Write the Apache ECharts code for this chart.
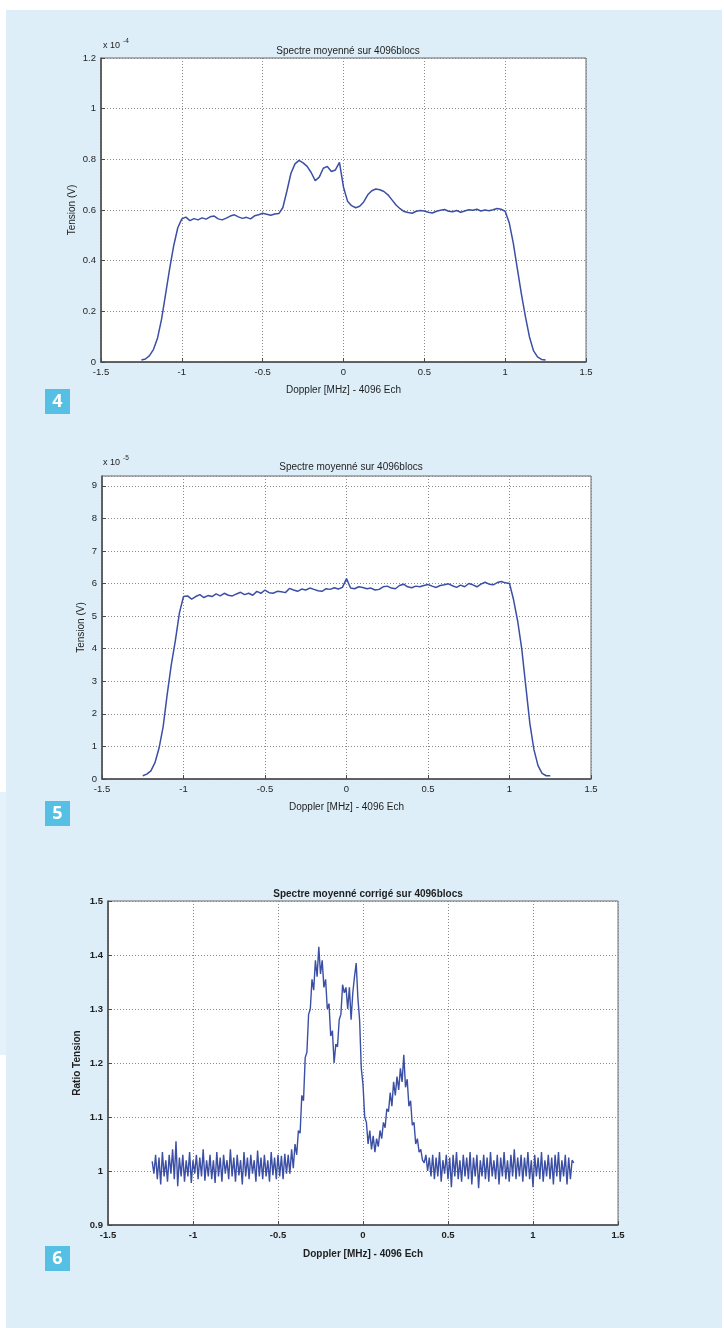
<!DOCTYPE html>
<html lang="fr" style="height: 100%">
<head>
  <meta charset="utf-8">
</head>
<body style="height: 100%; margin: 0; background: #fff">
  <div id="container" style="width: 724px; height: 1328px"></div>

  <script type="text/javascript" src="https://fastly.jsdelivr.net/npm/echarts@6/dist/echarts.min.js"></script>

  <script type="text/javascript">
    // sample grids (MHz)
    var X12_START = -1.25, X12_STEP = 0.025, X12_COUNT = 101;
    var X3_START = -1.24, X3_STEP = 0.01, X3_COUNT = 249;

    // fig 4 : tension x 1e-4 V
    var spectre4 = [
      0.008, 0.012, 0.025, 0.05, 0.095, 0.17, 0.27, 0.37, 0.46, 0.53,
      0.565, 0.572, 0.558, 0.566, 0.561, 0.569, 0.564, 0.573, 0.576, 0.565,
      0.561, 0.568, 0.576, 0.581, 0.573, 0.567, 0.571, 0.565, 0.577, 0.581,
      0.587, 0.583, 0.579, 0.584, 0.586, 0.61, 0.675, 0.745, 0.782, 0.796,
      0.786, 0.772, 0.748, 0.716, 0.73, 0.765, 0.772, 0.752, 0.758, 0.788,
      0.69, 0.635, 0.617, 0.609, 0.615, 0.632, 0.66, 0.676, 0.683, 0.68,
      0.673, 0.66, 0.64, 0.62, 0.605, 0.594, 0.59, 0.587, 0.595, 0.598,
      0.596, 0.591, 0.588, 0.595, 0.599, 0.602, 0.595, 0.593, 0.598, 0.591,
      0.596, 0.601, 0.599, 0.603, 0.596, 0.6, 0.597, 0.601, 0.606, 0.603,
      0.595, 0.55, 0.47, 0.37, 0.27, 0.18, 0.1, 0.045, 0.02, 0.01,
      0.008
    ];

    // fig 5 : tension x 1e-5 V
    var spectre5 = [
      0.1, 0.15, 0.25, 0.5, 0.95, 1.6, 2.6, 3.5, 4.25, 5.1,
      5.6, 5.62, 5.52, 5.6, 5.66, 5.57, 5.63, 5.6, 5.68, 5.62,
      5.7, 5.64, 5.62, 5.68, 5.73, 5.66, 5.7, 5.64, 5.76, 5.7,
      5.8, 5.72, 5.7, 5.76, 5.75, 5.72, 5.85, 5.8, 5.76, 5.83,
      5.8, 5.86, 5.82, 5.78, 5.76, 5.84, 5.82, 5.87, 5.83, 5.88,
      6.15, 5.86, 5.84, 5.9, 5.88, 5.84, 5.86, 5.8, 5.82, 5.9,
      5.92, 5.86, 5.84, 5.94, 5.98, 5.9, 5.87, 5.92, 5.9, 5.94,
      5.97, 5.92, 5.88, 5.94, 5.96, 5.99, 5.93, 5.88, 5.95, 5.9,
      6.0, 5.96, 5.9, 5.98, 6.04, 5.98, 5.96, 6.03, 6.06, 6.02,
      6.0, 5.5, 4.85, 4.0, 2.85, 1.7, 0.9, 0.41, 0.17, 0.1,
      0.1
    ];

    // fig 6 : ratio
    var ratio6 = [
      1.018, 0.995, 1.03, 0.985, 1.025, 0.975, 1.035, 0.99, 1.02, 0.98,
      1.03, 0.995, 1.04, 0.985, 1.055, 0.972, 1.025, 0.99, 1.03, 0.98,
      1.02, 0.99, 1.035, 0.978, 1.02, 0.995, 1.03, 0.985, 1.025, 0.99,
      1.04, 0.982, 1.02, 0.99, 1.03, 0.985, 1.02, 0.978, 1.035, 0.99,
      1.025, 0.98, 1.03, 0.995, 1.02, 0.985, 1.04, 0.99, 1.025, 0.98,
      1.03, 0.992, 1.02, 0.975, 1.035, 0.99, 1.025, 0.985, 1.03, 0.995,
      1.02, 0.98, 1.038, 0.99, 1.025, 0.985, 1.03, 0.99, 1.02, 0.98,
      1.035, 0.992, 1.025, 0.985, 1.03, 0.99, 1.028, 0.985, 1.032, 0.995,
      1.03, 0.995, 1.04, 1.005, 1.05, 1.03, 1.075, 1.07, 1.14, 1.13,
      1.21, 1.22, 1.29, 1.3, 1.355, 1.335, 1.39, 1.36, 1.415, 1.365,
      1.39, 1.34, 1.355, 1.3, 1.31, 1.25, 1.26, 1.2, 1.235, 1.23,
      1.28, 1.29, 1.345, 1.33, 1.34, 1.3, 1.34, 1.28, 1.33, 1.36,
      1.385, 1.32, 1.28, 1.19, 1.16, 1.1, 1.09, 1.05, 1.075, 1.04,
      1.065, 1.035, 1.06, 1.045, 1.075, 1.06, 1.09, 1.08, 1.115, 1.11,
      1.145, 1.12, 1.165, 1.14, 1.175, 1.15, 1.19, 1.165, 1.215, 1.155,
      1.17, 1.12, 1.13, 1.085, 1.09, 1.05, 1.06, 1.035, 1.04, 1.02,
      1.015, 1.03, 1.0, 1.025, 0.99, 1.03, 0.985, 1.025, 0.99, 1.035,
      0.98, 1.02, 0.995, 1.03, 0.985, 1.025, 0.97, 1.03, 0.99, 1.035,
      0.985, 1.02, 0.98, 1.03, 0.99, 1.025, 0.985, 1.035, 0.975, 1.025,
      0.99, 1.03, 0.968, 1.02, 0.99, 1.03, 0.985, 1.025, 0.98, 1.035,
      0.99, 1.02, 0.985, 1.03, 0.975, 1.025, 0.99, 1.035, 0.985, 1.02,
      0.98, 1.03, 0.99, 1.04, 0.985, 1.025, 0.99, 1.03, 0.98, 1.025,
      0.99, 1.035, 0.985, 1.02, 0.97, 1.03, 0.99, 1.025, 0.985, 1.035,
      0.98, 1.02, 0.99, 1.03, 0.985, 1.025, 0.975, 1.03, 0.99, 1.035,
      0.98, 1.02, 0.99, 1.03, 0.975, 1.025, 0.985, 1.02, 1.015
    ];

    function grille(start, step, n) {
      var out = [];
      for (var i = 0; i < n; i++) out.push(+(start + i * step).toFixed(4));
      return out;
    }
    function paires(xs, ys) {
      return xs.map(function (x, i) { return [x, ys[i]]; });
    }

    var x12 = grille(X12_START, X12_STEP, X12_COUNT);
    var x3 = grille(X3_START, X3_STEP, X3_COUNT);

    var FONT = '"Liberation Sans", Arial, sans-serif';
    var TXT = '#1e1e1e';
    var LINE = '#3b4fa5';

    function axeX(idx, gap, bold) {
      return {
        type: 'value', gridIndex: idx, min: -1.5, max: 1.5, interval: 0.5,
        name: 'Doppler [MHz] - 4096 Ech', nameLocation: 'middle', nameGap: gap,
        nameTextStyle: { fontFamily: FONT, fontSize: 10, color: TXT, fontWeight: bold ? 'bold' : 'normal' },
        axisLine: { onZero: false, lineStyle: { color: '#4a4a4a', width: 1.5 } },
        axisTick: { inside: true, length: 4, lineStyle: { color: '#4a4a4a' } },
        axisLabel: { fontFamily: FONT, fontSize: 9.5, color: TXT, margin: 5, fontWeight: bold ? 'bold' : 'normal' },
        splitLine: { show: true, lineStyle: { type: [1, 2], color: '#8a8a8a', width: 1 } }
      };
    }
    function axeY(idx, min, max, step, nom, gap, bold) {
      return {
        type: 'value', gridIndex: idx, min: min, max: max, interval: step,
        name: nom, nameLocation: 'middle', nameGap: gap, nameRotate: 90,
        nameMoveOverlap: false,
        nameTextStyle: { fontFamily: FONT, fontSize: 10, color: TXT, fontWeight: bold ? 'bold' : 'normal' },
        axisLine: { show: true, onZero: false, lineStyle: { color: '#4a4a4a', width: 1.5 } },
        axisTick: { show: true, inside: true, length: 4, lineStyle: { color: '#4a4a4a' } },
        axisLabel: { fontFamily: FONT, fontSize: 9.5, color: TXT, margin: 5, showMaxLabel: max === 9.3 ? false : null, fontWeight: bold ? 'bold' : 'normal' },
        splitLine: { show: true, lineStyle: { type: [1, 2], color: '#8a8a8a', width: 1 } }
      };
    }
    function courbe(idx, data, w) {
      return {
        type: 'line', xAxisIndex: idx, yAxisIndex: idx, data: data,
        showSymbol: false, symbol: 'none', sampling: null, silent: true,
        lineStyle: { color: LINE, width: w }
      };
    }
    function titre(texte, cx, top, bold) {
      return {
        text: texte, left: cx, top: top, textAlign: 'center',
        textStyle: { fontFamily: FONT, fontSize: 10, color: TXT, fontWeight: bold ? 'bold' : 'normal' }
      };
    }
    function pastille(n, y) {
      return [
        { type: 'rect', shape: { x: 45, y: y, width: 25, height: 25 }, style: { fill: '#55c0e3' } },
        { type: 'text', x: 57.5, y: y + 13, style: { text: n, fill: '#fff', font: 'bold 18px "Open Sans", sans-serif', textAlign: 'center', textVerticalAlign: 'middle' } }
      ];
    }
    function exposant(p, x, y) {
      return [
        { type: 'text', x: x, y: y, style: { text: 'x 10', fill: TXT, font: '9px ' + FONT, textVerticalAlign: 'middle' } },
        { type: 'text', x: x + 20, y: y - 5, style: { text: p, fill: TXT, font: '6.5px ' + FONT, textVerticalAlign: 'middle' } }
      ];
    }

    var dom = document.getElementById('container');
    var myChart = echarts.init(dom, null, { renderer: 'canvas' });

    var gridCommon = { show: true, backgroundColor: '#fff', borderColor: '#6a6a6a', borderWidth: 1 };

    var option = {
      animation: false,
      backgroundColor: '#fff',
      graphic: [
        { type: 'rect', z: -10, shape: { x: 6, y: 10, width: 716, height: 1318 }, style: { fill: '#ddeef8' } },
        { type: 'rect', z: -10, shape: { x: 0, y: 792, width: 6, height: 263 }, style: { fill: '#e5f2fb' } }
      ].concat(pastille('4', 389), pastille('5', 801), pastille('6', 1246),
               exposant('-4', 103, 46), exposant('-5', 103, 463)),
      title: [
        titre('Spectre moyenné sur 4096blocs', 343, 41, false),
        titre('Spectre moyenné sur 4096blocs', 346, 457, false),
        titre('Spectre moyenné corrigé sur 4096blocs', 363, 884, true)
      ],
      grid: [
        Object.assign({ left: 101, top: 58, width: 485, height: 304 }, gridCommon),
        Object.assign({ left: 102, top: 476, width: 489, height: 303 }, gridCommon),
        Object.assign({ left: 108, top: 901, width: 510, height: 324 }, gridCommon)
      ],
      xAxis: [axeX(0, 23, false), axeX(1, 23, false), axeX(2, 24, true)],
      yAxis: [
        axeY(0, 0, 1.2, 0.2, 'Tension (V)', 24, false),
        axeY(1, 0, 9.3, 1, 'Tension (V)', 16, false),
        axeY(2, 0.9, 1.5, 0.1, 'Ratio Tension', 26, true)
      ],
      series: [
        courbe(0, paires(x12, spectre4), 1.5),
        courbe(1, paires(x12, spectre5), 1.5),
        courbe(2, paires(x3, ratio6), 1.4)
      ]
    };

    myChart.setOption(option);
    window.addEventListener('resize', myChart.resize);
  </script>
</body>
</html>
